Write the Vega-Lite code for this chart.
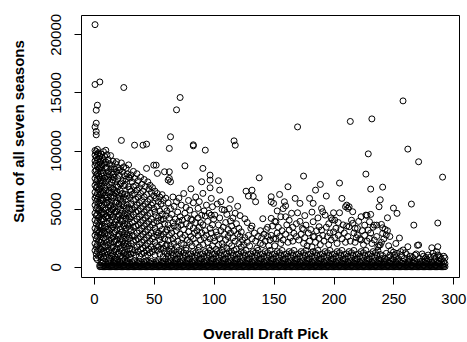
{"$schema":"https://vega.github.io/schema/vega-lite/v6.json","width":378,"height":262,"autosize":{"type":"none"},"padding":{"left":81,"top":15,"right":8,"bottom":65},"background":"white","config":{"view":{"stroke":"black","strokeWidth":1},"font":"Liberation Sans"},
"data":{"values":[
{"pick":1,"sum":20830},{"pick":1,"sum":15680},{"pick":1,"sum":12030},{"pick":1,"sum":10000},{"pick":1,"sum":9600},{"pick":1,"sum":9100},{"pick":1,"sum":8700},{"pick":1,"sum":8200},{"pick":1,"sum":7600},{"pick":1,"sum":7000},{"pick":1,"sum":6400},{"pick":1,"sum":5900},{"pick":1,"sum":5300},{"pick":1,"sum":4600},{"pick":1,"sum":4000},{"pick":1,"sum":3300},{"pick":1,"sum":2700},{"pick":1,"sum":2000},{"pick":1,"sum":1400},
{"pick":2,"sum":13470},{"pick":2,"sum":12350},{"pick":2,"sum":11640},{"pick":2,"sum":11350},{"pick":2,"sum":9900},{"pick":2,"sum":9400},{"pick":2,"sum":8900},{"pick":2,"sum":8300},{"pick":2,"sum":7900},{"pick":2,"sum":7300},{"pick":2,"sum":6800},{"pick":2,"sum":6100},{"pick":2,"sum":5600},{"pick":2,"sum":5000},{"pick":2,"sum":4400},{"pick":2,"sum":3700},{"pick":2,"sum":3000},{"pick":2,"sum":2400},{"pick":2,"sum":1700},{"pick":2,"sum":1100},{"pick":2,"sum":750},
{"pick":3,"sum":13900},{"pick":3,"sum":10100},{"pick":3,"sum":9700},{"pick":3,"sum":9200},{"pick":3,"sum":8600},{"pick":3,"sum":8000},{"pick":3,"sum":7500},{"pick":3,"sum":6900},{"pick":3,"sum":6300},{"pick":3,"sum":5800},{"pick":3,"sum":5100},{"pick":3,"sum":4500},{"pick":3,"sum":3900},{"pick":3,"sum":3200},{"pick":3,"sum":2600},{"pick":3,"sum":1900},{"pick":3,"sum":1300},{"pick":3,"sum":600},
{"pick":4,"sum":9800},{"pick":4,"sum":9300},{"pick":4,"sum":8800},{"pick":4,"sum":8400},{"pick":4,"sum":7800},{"pick":4,"sum":7100},{"pick":4,"sum":6600},{"pick":4,"sum":6000},{"pick":4,"sum":5400},{"pick":4,"sum":4800},{"pick":4,"sum":4200},{"pick":4,"sum":3500},{"pick":4,"sum":2900},{"pick":4,"sum":2200},{"pick":4,"sum":1500},{"pick":4,"sum":900},
{"pick":5,"sum":15900},{"pick":5,"sum":9500},{"pick":5,"sum":9000},{"pick":5,"sum":8500},{"pick":5,"sum":7700},{"pick":5,"sum":7200},{"pick":5,"sum":6700},{"pick":5,"sum":6200},{"pick":5,"sum":5500},{"pick":5,"sum":4900},{"pick":5,"sum":4300},{"pick":5,"sum":3600},{"pick":5,"sum":3000},{"pick":5,"sum":2300},{"pick":5,"sum":1600},{"pick":5,"sum":1000},
{"pick":6,"sum":9700},{"pick":6,"sum":9100},{"pick":6,"sum":8600},{"pick":6,"sum":8000},{"pick":6,"sum":7400},{"pick":6,"sum":6900},{"pick":6,"sum":6300},{"pick":6,"sum":5700},{"pick":6,"sum":5200},{"pick":6,"sum":4600},{"pick":6,"sum":4000},{"pick":6,"sum":3400},{"pick":6,"sum":2800},{"pick":6,"sum":2100},{"pick":6,"sum":1500},{"pick":6,"sum":800},
{"pick":7,"sum":9400},{"pick":7,"sum":8800},{"pick":7,"sum":8300},{"pick":7,"sum":7800},{"pick":7,"sum":7200},{"pick":7,"sum":6500},{"pick":7,"sum":5900},{"pick":7,"sum":5300},{"pick":7,"sum":4700},{"pick":7,"sum":4100},{"pick":7,"sum":3500},{"pick":7,"sum":2900},{"pick":7,"sum":2300},{"pick":7,"sum":1700},{"pick":7,"sum":1100},
{"pick":8,"sum":9900},{"pick":8,"sum":9150},{"pick":8,"sum":8050},{"pick":8,"sum":7420},{"pick":8,"sum":6380},{"pick":8,"sum":5710},{"pick":8,"sum":4650},{"pick":8,"sum":4120},{"pick":8,"sum":3050},{"pick":8,"sum":2480},{"pick":8,"sum":1390},{"pick":8,"sum":820},
{"pick":9,"sum":9480},{"pick":9,"sum":8820},{"pick":9,"sum":7610},{"pick":9,"sum":6760},{"pick":9,"sum":6150},{"pick":9,"sum":5030},{"pick":9,"sum":4510},{"pick":9,"sum":3480},{"pick":9,"sum":2830},{"pick":9,"sum":1810},{"pick":9,"sum":1150},
{"pick":10,"sum":10020},{"pick":10,"sum":9010},{"pick":10,"sum":8460},{"pick":10,"sum":7280},{"pick":10,"sum":6590},{"pick":10,"sum":5890},{"pick":10,"sum":4870},{"pick":10,"sum":4270},{"pick":10,"sum":3390},{"pick":10,"sum":2360},{"pick":10,"sum":1720},{"pick":10,"sum":960},
{"pick":11,"sum":9640},{"pick":11,"sum":8540},{"pick":11,"sum":7790},{"pick":11,"sum":6940},{"pick":11,"sum":6020},{"pick":11,"sum":5480},{"pick":11,"sum":4380},{"pick":11,"sum":3710},{"pick":11,"sum":2940},{"pick":11,"sum":2090},{"pick":11,"sum":1280},
{"pick":12,"sum":9220},{"pick":12,"sum":8180},{"pick":12,"sum":7530},{"pick":12,"sum":6350},{"pick":12,"sum":5720},{"pick":12,"sum":5110},{"pick":12,"sum":4190},{"pick":12,"sum":3260},{"pick":12,"sum":2690},{"pick":12,"sum":1850},{"pick":12,"sum":1060},
{"pick":13,"sum":8870},{"pick":13,"sum":7910},{"pick":13,"sum":7060},{"pick":13,"sum":6560},{"pick":13,"sum":5360},{"pick":13,"sum":4720},{"pick":13,"sum":3920},{"pick":13,"sum":3130},{"pick":13,"sum":2270},{"pick":13,"sum":1430},{"pick":13,"sum":740},
{"pick":14,"sum":9560},{"pick":14,"sum":8420},{"pick":14,"sum":7730},{"pick":14,"sum":6820},{"pick":14,"sum":6010},{"pick":14,"sum":5240},{"pick":14,"sum":4520},{"pick":14,"sum":3580},{"pick":14,"sum":2750},{"pick":14,"sum":2010},{"pick":14,"sum":1190},
{"pick":15,"sum":8730},{"pick":15,"sum":8120},{"pick":15,"sum":7230},{"pick":15,"sum":6410},{"pick":15,"sum":5630},{"pick":15,"sum":4880},{"pick":15,"sum":3990},{"pick":15,"sum":3310},{"pick":15,"sum":2420},{"pick":15,"sum":1640},{"pick":15,"sum":910},
{"pick":16,"sum":9080},{"pick":16,"sum":7960},{"pick":16,"sum":7470},{"pick":16,"sum":6720},{"pick":16,"sum":5920},{"pick":16,"sum":4960},{"pick":16,"sum":4280},{"pick":16,"sum":3420},{"pick":16,"sum":2560},{"pick":16,"sum":1690},{"pick":16,"sum":1020},
{"pick":17,"sum":8410},{"pick":17,"sum":7690},{"pick":17,"sum":6630},{"pick":17,"sum":6080},{"pick":17,"sum":5150},{"pick":17,"sum":4590},{"pick":17,"sum":3620},{"pick":17,"sum":2880},{"pick":17,"sum":2140},{"pick":17,"sum":1330},{"pick":17,"sum":640},
{"pick":18,"sum":8860},{"pick":18,"sum":7340},{"pick":18,"sum":6290},{"pick":18,"sum":5470},{"pick":18,"sum":4690},{"pick":18,"sum":3840},{"pick":18,"sum":3010},{"pick":18,"sum":2250},{"pick":18,"sum":1480},{"pick":18,"sum":830},
{"pick":19,"sum":9040},{"pick":19,"sum":8170},{"pick":19,"sum":6980},{"pick":19,"sum":6460},{"pick":19,"sum":5560},{"pick":19,"sum":4770},{"pick":19,"sum":4040},{"pick":19,"sum":3180},{"pick":19,"sum":2330},{"pick":19,"sum":1560},
{"pick":20,"sum":8520},{"pick":20,"sum":7580},{"pick":20,"sum":6850},{"pick":20,"sum":5930},{"pick":20,"sum":5180},{"pick":20,"sum":4340},{"pick":20,"sum":3560},{"pick":20,"sum":2640},{"pick":20,"sum":1920},{"pick":20,"sum":1090},{"pick":20,"sum":580},
{"pick":21,"sum":8280},{"pick":21,"sum":7860},{"pick":21,"sum":6150},{"pick":21,"sum":5390},{"pick":21,"sum":4470},{"pick":21,"sum":3730},{"pick":21,"sum":2790},{"pick":21,"sum":2010},{"pick":21,"sum":1240},
{"pick":22,"sum":8360},{"pick":22,"sum":7120},{"pick":22,"sum":6540},{"pick":22,"sum":5780},{"pick":22,"sum":4930},{"pick":22,"sum":4080},{"pick":22,"sum":3240},{"pick":22,"sum":2410},{"pick":22,"sum":1610},{"pick":22,"sum":920},
{"pick":23,"sum":10870},{"pick":23,"sum":8930},{"pick":23,"sum":7210},{"pick":23,"sum":6270},{"pick":23,"sum":5420},{"pick":23,"sum":4610},{"pick":23,"sum":3870},{"pick":23,"sum":2960},{"pick":23,"sum":2110},{"pick":23,"sum":1310},
{"pick":24,"sum":8140},{"pick":24,"sum":7380},{"pick":24,"sum":6310},{"pick":24,"sum":5610},{"pick":24,"sum":4780},{"pick":24,"sum":3940},{"pick":24,"sum":3020},{"pick":24,"sum":2230},{"pick":24,"sum":1420},{"pick":24,"sum":710},
{"pick":25,"sum":15420},{"pick":25,"sum":8590},{"pick":25,"sum":6960},{"pick":25,"sum":5980},{"pick":25,"sum":5250},{"pick":25,"sum":4390},{"pick":25,"sum":3520},{"pick":25,"sum":2680},{"pick":25,"sum":1890},{"pick":25,"sum":1130},
{"pick":26,"sum":7830},{"pick":26,"sum":7070},{"pick":26,"sum":6240},{"pick":26,"sum":4550},{"pick":26,"sum":3690},{"pick":26,"sum":2840},{"pick":26,"sum":2020},{"pick":26,"sum":1220},{"pick":26,"sum":610},
{"pick":27,"sum":8470},{"pick":27,"sum":7540},{"pick":27,"sum":5830},{"pick":27,"sum":5020},{"pick":27,"sum":4170},{"pick":27,"sum":3330},{"pick":27,"sum":2520},{"pick":27,"sum":1740},{"pick":27,"sum":940},
{"pick":28,"sum":7980},{"pick":28,"sum":6110},{"pick":28,"sum":5290},{"pick":28,"sum":4420},{"pick":28,"sum":3610},{"pick":28,"sum":2730},{"pick":28,"sum":1950},{"pick":28,"sum":1080},
{"pick":29,"sum":8760},{"pick":29,"sum":7710},{"pick":29,"sum":6880},{"pick":29,"sum":5090},{"pick":29,"sum":4310},{"pick":29,"sum":3470},{"pick":29,"sum":2610},{"pick":29,"sum":1780},{"pick":29,"sum":1010},
{"pick":30,"sum":7620},{"pick":30,"sum":6650},{"pick":30,"sum":5940},{"pick":30,"sum":4990},{"pick":30,"sum":4130},{"pick":30,"sum":3280},{"pick":30,"sum":2440},{"pick":30,"sum":1580},{"pick":30,"sum":790},
{"pick":31,"sum":7900},{"pick":31,"sum":6500},{"pick":31,"sum":5400},{"pick":31,"sum":4300},{"pick":31,"sum":3100},{"pick":31,"sum":2000},{"pick":31,"sum":1100},
{"pick":32,"sum":7300},{"pick":32,"sum":6200},{"pick":32,"sum":4900},{"pick":32,"sum":3800},{"pick":32,"sum":2700},{"pick":32,"sum":1500},
{"pick":33,"sum":8200},{"pick":33,"sum":6900},{"pick":33,"sum":5700},{"pick":33,"sum":4500},{"pick":33,"sum":3400},{"pick":33,"sum":2200},{"pick":33,"sum":1200},
{"pick":34,"sum":10460},{"pick":34,"sum":7600},{"pick":34,"sum":6300},{"pick":34,"sum":5100},{"pick":34,"sum":3900},{"pick":34,"sum":2600},{"pick":34,"sum":1400},
{"pick":35,"sum":7000},{"pick":35,"sum":5800},{"pick":35,"sum":4700},{"pick":35,"sum":3500},{"pick":35,"sum":2300},{"pick":35,"sum":1000},
{"pick":36,"sum":8000},{"pick":36,"sum":6600},{"pick":36,"sum":5300},{"pick":36,"sum":4100},{"pick":36,"sum":2900},{"pick":36,"sum":1700},
{"pick":37,"sum":7400},{"pick":37,"sum":6000},{"pick":37,"sum":4800},{"pick":37,"sum":3600},{"pick":37,"sum":2400},{"pick":37,"sum":1300},
{"pick":38,"sum":6800},{"pick":38,"sum":5500},{"pick":38,"sum":4300},{"pick":38,"sum":3100},{"pick":38,"sum":1900},{"pick":38,"sum":900},
{"pick":39,"sum":7700},{"pick":39,"sum":6300},{"pick":39,"sum":5000},{"pick":39,"sum":3800},{"pick":39,"sum":2600},{"pick":39,"sum":1500},
{"pick":40,"sum":7100},{"pick":40,"sum":5700},{"pick":40,"sum":4500},{"pick":40,"sum":3300},{"pick":40,"sum":2100},{"pick":40,"sum":1100},
{"pick":41,"sum":10460},{"pick":41,"sum":6500},{"pick":41,"sum":5200},{"pick":41,"sum":4000},{"pick":41,"sum":2800},{"pick":41,"sum":1600},
{"pick":42,"sum":7500},{"pick":42,"sum":6000},{"pick":42,"sum":4700},{"pick":42,"sum":3500},{"pick":42,"sum":2300},{"pick":42,"sum":1200},
{"pick":43,"sum":6900},{"pick":43,"sum":5400},{"pick":43,"sum":4200},{"pick":43,"sum":3000},{"pick":43,"sum":1800},{"pick":43,"sum":900},
{"pick":44,"sum":10550},{"pick":44,"sum":8460},{"pick":44,"sum":6200},{"pick":44,"sum":4900},{"pick":44,"sum":3700},{"pick":44,"sum":2500},{"pick":44,"sum":1400},
{"pick":45,"sum":7300},{"pick":45,"sum":5600},{"pick":45,"sum":4400},{"pick":45,"sum":3200},{"pick":45,"sum":2000},{"pick":45,"sum":1000},
{"pick":46,"sum":6700},{"pick":46,"sum":5100},{"pick":46,"sum":3900},{"pick":46,"sum":2700},{"pick":46,"sum":1500},
{"pick":47,"sum":7000},{"pick":47,"sum":5800},{"pick":47,"sum":4600},{"pick":47,"sum":3400},{"pick":47,"sum":2200},{"pick":47,"sum":1200},
{"pick":48,"sum":6400},{"pick":48,"sum":5300},{"pick":48,"sum":4100},{"pick":48,"sum":2900},{"pick":48,"sum":1700},
{"pick":49,"sum":6800},{"pick":49,"sum":5500},{"pick":49,"sum":3600},{"pick":49,"sum":2400},{"pick":49,"sum":1300},
{"pick":50,"sum":8740},{"pick":50,"sum":6100},{"pick":50,"sum":5000},{"pick":50,"sum":3800},{"pick":50,"sum":2600},{"pick":50,"sum":1500},
{"pick":51,"sum":6500},{"pick":51,"sum":4700},{"pick":51,"sum":3300},{"pick":51,"sum":2100},{"pick":51,"sum":1000},
{"pick":52,"sum":8740},{"pick":52,"sum":5900},{"pick":52,"sum":4400},{"pick":52,"sum":3000},{"pick":52,"sum":1800},
{"pick":53,"sum":8030},{"pick":53,"sum":6300},{"pick":53,"sum":5200},{"pick":53,"sum":3900},{"pick":53,"sum":2700},{"pick":53,"sum":1400},
{"pick":54,"sum":5600},{"pick":54,"sum":4200},{"pick":54,"sum":2900},{"pick":54,"sum":1700},
{"pick":55,"sum":6000},{"pick":55,"sum":4800},{"pick":55,"sum":3500},{"pick":55,"sum":2300},{"pick":55,"sum":1100},
{"pick":56,"sum":5400},{"pick":56,"sum":4000},{"pick":56,"sum":2600},{"pick":56,"sum":1500},
{"pick":57,"sum":6200},{"pick":57,"sum":4500},{"pick":57,"sum":3200},{"pick":57,"sum":2000},
{"pick":58,"sum":5700},{"pick":58,"sum":4100},{"pick":58,"sum":2800},{"pick":58,"sum":1600},{"pick":58,"sum":900},
{"pick":59,"sum":8170},{"pick":59,"sum":5000},{"pick":59,"sum":3700},{"pick":59,"sum":2400},{"pick":59,"sum":1300},
{"pick":60,"sum":5900},{"pick":60,"sum":4400},{"pick":60,"sum":3000},{"pick":60,"sum":1800},
{"pick":61,"sum":4800},{"pick":61,"sum":3200},{"pick":61,"sum":1900},
{"pick":62,"sum":7450},{"pick":62,"sum":5500},{"pick":62,"sum":3600},{"pick":62,"sum":2300},
{"pick":63,"sum":10180},{"pick":63,"sum":8170},{"pick":63,"sum":7600},{"pick":63,"sum":4200},{"pick":63,"sum":2700},
{"pick":64,"sum":11180},{"pick":64,"sum":7310},{"pick":64,"sum":5000},{"pick":64,"sum":3300},{"pick":64,"sum":1800},
{"pick":65,"sum":4500},{"pick":65,"sum":2900},{"pick":65,"sum":1500},
{"pick":66,"sum":6000},{"pick":66,"sum":3800},{"pick":66,"sum":2400},
{"pick":67,"sum":5200},{"pick":67,"sum":3500},{"pick":67,"sum":2000},
{"pick":68,"sum":4100},{"pick":68,"sum":2600},
{"pick":69,"sum":13500},{"pick":69,"sum":5600},{"pick":69,"sum":3100},{"pick":69,"sum":1700},
{"pick":70,"sum":4700},{"pick":70,"sum":3400},{"pick":70,"sum":2200},
{"pick":71,"sum":5900},{"pick":71,"sum":3900},{"pick":71,"sum":1400},
{"pick":72,"sum":14560},{"pick":72,"sum":4300},{"pick":72,"sum":2800},
{"pick":73,"sum":5300},{"pick":73,"sum":3600},{"pick":73,"sum":2000},
{"pick":74,"sum":4000},{"pick":74,"sum":2500},
{"pick":75,"sum":6300},{"pick":75,"sum":3200},{"pick":75,"sum":1900},
{"pick":76,"sum":8680},{"pick":76,"sum":4600},{"pick":76,"sum":2700},
{"pick":77,"sum":5100},{"pick":77,"sum":3700},{"pick":77,"sum":1600},
{"pick":78,"sum":4200},{"pick":78,"sum":2300},
{"pick":79,"sum":5700},{"pick":79,"sum":3000},
{"pick":80,"sum":4870},{"pick":80,"sum":3500},{"pick":80,"sum":2100},
{"pick":81,"sum":6700},{"pick":81,"sum":4100},{"pick":81,"sum":2600},
{"pick":82,"sum":4010},{"pick":82,"sum":1800},
{"pick":83,"sum":10490},{"pick":83,"sum":10400},{"pick":83,"sum":5500},{"pick":83,"sum":3300},{"pick":83,"sum":2400},
{"pick":84,"sum":4500},{"pick":84,"sum":2900},
{"pick":85,"sum":6000},{"pick":85,"sum":3800},{"pick":85,"sum":2000},
{"pick":86,"sum":3100},
{"pick":87,"sum":5020},{"pick":87,"sum":4200},{"pick":87,"sum":2700},
{"pick":88,"sum":5600},{"pick":88,"sum":3400},{"pick":88,"sum":1700},
{"pick":89,"sum":3800},{"pick":89,"sum":2300},
{"pick":90,"sum":7310},{"pick":90,"sum":4440},{"pick":90,"sum":2900},
{"pick":91,"sum":8460},{"pick":91,"sum":6310},{"pick":91,"sum":3600},{"pick":91,"sum":1900},
{"pick":92,"sum":4800},{"pick":92,"sum":2500},
{"pick":93,"sum":10030},{"pick":93,"sum":4360},{"pick":93,"sum":3100},
{"pick":94,"sum":5300},{"pick":94,"sum":2700},
{"pick":95,"sum":3900},{"pick":95,"sum":2100},
{"pick":96,"sum":4600},{"pick":96,"sum":1600},
{"pick":97,"sum":7880},{"pick":97,"sum":7450},{"pick":97,"sum":6790},{"pick":97,"sum":3300},{"pick":97,"sum":2400},
{"pick":98,"sum":5880},{"pick":98,"sum":4440},{"pick":98,"sum":2900},
{"pick":99,"sum":5160},{"pick":99,"sum":3600},{"pick":99,"sum":1800},
{"pick":100,"sum":4100},{"pick":100,"sum":2500},
{"pick":101,"sum":4440},{"pick":101,"sum":2200},
{"pick":102,"sum":3000},{"pick":102,"sum":1500},
{"pick":103,"sum":5400},{"pick":103,"sum":2700},
{"pick":104,"sum":7400},{"pick":104,"sum":3600},{"pick":104,"sum":1900},
{"pick":105,"sum":6590},{"pick":105,"sum":4200},{"pick":105,"sum":2400},
{"pick":106,"sum":5590},{"pick":106,"sum":3100},
{"pick":107,"sum":4930},{"pick":107,"sum":2000},
{"pick":108,"sum":3400},{"pick":108,"sum":1700},
{"pick":109,"sum":4870},{"pick":109,"sum":2800},
{"pick":110,"sum":3800},{"pick":110,"sum":2300},
{"pick":111,"sum":4500},{"pick":111,"sum":1600},
{"pick":112,"sum":3200},{"pick":112,"sum":2600},
{"pick":113,"sum":5000},{"pick":113,"sum":2000},
{"pick":114,"sum":5790},{"pick":114,"sum":3930},{"pick":114,"sum":2900},
{"pick":115,"sum":3500},{"pick":115,"sum":1800},
{"pick":116,"sum":4200},{"pick":116,"sum":2500},
{"pick":117,"sum":10830},{"pick":117,"sum":3100},
{"pick":118,"sum":10460},{"pick":118,"sum":4600},{"pick":118,"sum":2200},
{"pick":119,"sum":3700},{"pick":119,"sum":1500},
{"pick":120,"sum":5200},{"pick":120,"sum":2800},
{"pick":121,"sum":3300},{"pick":121,"sum":2000},
{"pick":122,"sum":4400},{"pick":122,"sum":2600},
{"pick":123,"sum":3000},{"pick":123,"sum":1700},
{"pick":124,"sum":2300},
{"pick":125,"sum":1900},
{"pick":126,"sum":4120},{"pick":126,"sum":2500},
{"pick":127,"sum":6500},
{"pick":128,"sum":3800},{"pick":128,"sum":2100},
{"pick":129,"sum":6080},{"pick":129,"sum":2700},
{"pick":130,"sum":1800},
{"pick":131,"sum":3300},
{"pick":132,"sum":6590},{"pick":132,"sum":3500},{"pick":132,"sum":2400},
{"pick":133,"sum":6050},
{"pick":134,"sum":2900},
{"pick":135,"sum":5590},{"pick":135,"sum":2200},
{"pick":136,"sum":1600},
{"pick":137,"sum":2600},
{"pick":138,"sum":7650},
{"pick":139,"sum":3100},{"pick":139,"sum":2000},
{"pick":140,"sum":2500},
{"pick":141,"sum":4130},{"pick":141,"sum":1900},
{"pick":142,"sum":2800},
{"pick":143,"sum":2200},
{"pick":144,"sum":3200},
{"pick":145,"sum":3390},{"pick":145,"sum":2600},
{"pick":146,"sum":1800},
{"pick":147,"sum":2300},
{"pick":148,"sum":6020},{"pick":148,"sum":5590},{"pick":148,"sum":4160},{"pick":148,"sum":2700},
{"pick":149,"sum":3500},
{"pick":150,"sum":5450},{"pick":150,"sum":2400},
{"pick":151,"sum":3900},{"pick":151,"sum":1800},
{"pick":152,"sum":3870},{"pick":152,"sum":2400},
{"pick":153,"sum":4800},{"pick":153,"sum":2900},
{"pick":154,"sum":3390},
{"pick":155,"sum":6220},{"pick":155,"sum":2600},
{"pick":156,"sum":4300},{"pick":156,"sum":2000},
{"pick":157,"sum":3100},
{"pick":158,"sum":5000},{"pick":158,"sum":2300},
{"pick":159,"sum":5590},
{"pick":160,"sum":5240},{"pick":160,"sum":4300},{"pick":160,"sum":2800},
{"pick":161,"sum":3600},
{"pick":162,"sum":6880},{"pick":162,"sum":2100},
{"pick":163,"sum":3150},{"pick":163,"sum":4000},
{"pick":164,"sum":2500},
{"pick":165,"sum":4600},
{"pick":166,"sum":3400},{"pick":166,"sum":2200},
{"pick":167,"sum":2870},
{"pick":168,"sum":5880},
{"pick":169,"sum":3700},{"pick":169,"sum":2600},
{"pick":170,"sum":12030},{"pick":170,"sum":4640},
{"pick":171,"sum":2300},
{"pick":172,"sum":5450},{"pick":172,"sum":3900},
{"pick":173,"sum":2800},
{"pick":174,"sum":3300},
{"pick":175,"sum":7800},{"pick":175,"sum":3210},{"pick":175,"sum":2000},
{"pick":176,"sum":4400},{"pick":176,"sum":2500},
{"pick":177,"sum":3580},
{"pick":178,"sum":1800},
{"pick":179,"sum":2900},
{"pick":180,"sum":5880},{"pick":180,"sum":2200},
{"pick":181,"sum":3200},
{"pick":182,"sum":4700},{"pick":182,"sum":1700},
{"pick":183,"sum":5450},{"pick":183,"sum":3870},{"pick":183,"sum":2600},
{"pick":184,"sum":2580},
{"pick":185,"sum":6590},{"pick":185,"sum":2100},
{"pick":186,"sum":3100},
{"pick":187,"sum":4200},
{"pick":188,"sum":3440},{"pick":188,"sum":2440},
{"pick":189,"sum":7080},{"pick":189,"sum":1900},
{"pick":190,"sum":5020},{"pick":190,"sum":3150},
{"pick":191,"sum":4730},{"pick":191,"sum":2700},
{"pick":192,"sum":2200},
{"pick":193,"sum":4440},
{"pick":194,"sum":6080},{"pick":194,"sum":3400},
{"pick":195,"sum":2600},
{"pick":196,"sum":3700},{"pick":196,"sum":1900},
{"pick":197,"sum":2900},
{"pick":198,"sum":4200},{"pick":198,"sum":2300},
{"pick":199,"sum":4040},
{"pick":200,"sum":4640},{"pick":200,"sum":3000},
{"pick":201,"sum":4010},{"pick":201,"sum":2500},
{"pick":202,"sum":3300},
{"pick":203,"sum":2000},
{"pick":204,"sum":3800},{"pick":204,"sum":2700},
{"pick":205,"sum":7200},{"pick":205,"sum":4640},
{"pick":206,"sum":3200},
{"pick":207,"sum":5880},{"pick":207,"sum":2400},
{"pick":208,"sum":3600},
{"pick":209,"sum":2900},
{"pick":210,"sum":5160},{"pick":210,"sum":2100},
{"pick":211,"sum":5300},{"pick":211,"sum":3500},
{"pick":212,"sum":5020},{"pick":212,"sum":2600},
{"pick":213,"sum":5160},{"pick":213,"sum":3440},
{"pick":214,"sum":12500},{"pick":214,"sum":2200},
{"pick":215,"sum":4000},
{"pick":216,"sum":4730},{"pick":216,"sum":3730},
{"pick":217,"sum":2900},
{"pick":218,"sum":3300},{"pick":218,"sum":2100},
{"pick":219,"sum":2500},
{"pick":220,"sum":3300},{"pick":220,"sum":2720},
{"pick":221,"sum":3900},
{"pick":222,"sum":2400},
{"pick":223,"sum":4300},{"pick":223,"sum":2300},
{"pick":224,"sum":3100},
{"pick":225,"sum":1900},
{"pick":226,"sum":3580},{"pick":226,"sum":2700},
{"pick":227,"sum":7970},{"pick":227,"sum":4440},
{"pick":228,"sum":4420},{"pick":228,"sum":2200},
{"pick":229,"sum":9710},{"pick":229,"sum":3150},
{"pick":230,"sum":3870},{"pick":230,"sum":2440},
{"pick":231,"sum":6680},{"pick":231,"sum":4500},{"pick":231,"sum":2900},
{"pick":232,"sum":12720},{"pick":232,"sum":2000},
{"pick":233,"sum":3400},
{"pick":234,"sum":3580},{"pick":234,"sum":2300},
{"pick":236,"sum":3580},{"pick":236,"sum":2600},
{"pick":237,"sum":1720},
{"pick":238,"sum":5160},{"pick":238,"sum":1840},
{"pick":239,"sum":5760},{"pick":239,"sum":1870},
{"pick":240,"sum":3640},{"pick":240,"sum":2100},
{"pick":241,"sum":6850},{"pick":241,"sum":3350},{"pick":241,"sum":2870},
{"pick":242,"sum":2400},
{"pick":243,"sum":3210},
{"pick":244,"sum":2720},
{"pick":245,"sum":4210},{"pick":245,"sum":3100},
{"pick":246,"sum":1800},
{"pick":247,"sum":2600},
{"pick":248,"sum":1400},
{"pick":250,"sum":5045},
{"pick":251,"sum":1010},
{"pick":252,"sum":2000},
{"pick":253,"sum":4590},{"pick":253,"sum":1150},
{"pick":255,"sum":2470},
{"pick":256,"sum":1300},
{"pick":258,"sum":14270},{"pick":258,"sum":1440},
{"pick":260,"sum":1200},
{"pick":262,"sum":10120},{"pick":262,"sum":1720},
{"pick":264,"sum":900},
{"pick":265,"sum":5390},
{"pick":267,"sum":3580},
{"pick":268,"sum":1000},
{"pick":270,"sum":1840},
{"pick":271,"sum":9030},{"pick":271,"sum":1870},
{"pick":274,"sum":1100},
{"pick":277,"sum":800},
{"pick":279,"sum":1000},
{"pick":282,"sum":1630},
{"pick":284,"sum":900},
{"pick":286,"sum":1290},
{"pick":287,"sum":3760},{"pick":287,"sum":1720},{"pick":287,"sum":1010},
{"pick":289,"sum":800},
{"pick":291,"sum":7710},
{"pick":292,"sum":900},
{"pick":5,"sum":0},{"pick":5,"sum":140},{"pick":6,"sum":0},{"pick":6,"sum":380},{"pick":7,"sum":0},{"pick":7,"sum":300},{"pick":8,"sum":0},{"pick":8,"sum":460},{"pick":9,"sum":0},{"pick":9,"sum":220},
{"pick":10,"sum":0},{"pick":10,"sum":350},{"pick":11,"sum":0},{"pick":11,"sum":180},{"pick":12,"sum":0},{"pick":12,"sum":420},{"pick":13,"sum":0},{"pick":13,"sum":260},{"pick":14,"sum":0},{"pick":14,"sum":500},{"pick":15,"sum":0},{"pick":15,"sum":140},{"pick":16,"sum":0},{"pick":16,"sum":380},{"pick":17,"sum":0},{"pick":17,"sum":300},{"pick":18,"sum":0},{"pick":18,"sum":460},{"pick":19,"sum":0},{"pick":19,"sum":220},
{"pick":20,"sum":0},{"pick":20,"sum":350},{"pick":21,"sum":0},{"pick":21,"sum":180},{"pick":22,"sum":0},{"pick":22,"sum":420},{"pick":23,"sum":0},{"pick":23,"sum":260},{"pick":24,"sum":0},{"pick":24,"sum":500},{"pick":25,"sum":0},{"pick":25,"sum":140},{"pick":26,"sum":0},{"pick":26,"sum":380},{"pick":27,"sum":0},{"pick":27,"sum":300},{"pick":28,"sum":0},{"pick":28,"sum":460},{"pick":29,"sum":0},{"pick":29,"sum":220},
{"pick":30,"sum":0},{"pick":30,"sum":350},{"pick":31,"sum":0},{"pick":31,"sum":180},{"pick":32,"sum":0},{"pick":32,"sum":420},{"pick":33,"sum":0},{"pick":33,"sum":260},{"pick":34,"sum":0},{"pick":34,"sum":500},{"pick":35,"sum":0},{"pick":35,"sum":140},{"pick":36,"sum":0},{"pick":36,"sum":380},{"pick":37,"sum":0},{"pick":37,"sum":300},{"pick":38,"sum":0},{"pick":38,"sum":460},{"pick":39,"sum":0},{"pick":39,"sum":220},
{"pick":40,"sum":0},{"pick":40,"sum":350},{"pick":41,"sum":0},{"pick":41,"sum":180},{"pick":42,"sum":0},{"pick":42,"sum":420},{"pick":43,"sum":0},{"pick":43,"sum":260},{"pick":44,"sum":0},{"pick":44,"sum":500},{"pick":45,"sum":0},{"pick":45,"sum":140},{"pick":46,"sum":0},{"pick":46,"sum":380},{"pick":47,"sum":0},{"pick":47,"sum":300},{"pick":48,"sum":0},{"pick":48,"sum":460},{"pick":49,"sum":0},{"pick":49,"sum":220},
{"pick":50,"sum":0},{"pick":50,"sum":350},{"pick":51,"sum":0},{"pick":51,"sum":180},{"pick":52,"sum":0},{"pick":52,"sum":420},{"pick":53,"sum":0},{"pick":53,"sum":260},{"pick":54,"sum":0},{"pick":54,"sum":500},{"pick":55,"sum":0},{"pick":55,"sum":140},{"pick":56,"sum":0},{"pick":56,"sum":380},{"pick":57,"sum":0},{"pick":57,"sum":300},{"pick":58,"sum":0},{"pick":58,"sum":460},{"pick":59,"sum":0},{"pick":59,"sum":220},
{"pick":60,"sum":0},{"pick":60,"sum":350},{"pick":61,"sum":0},{"pick":61,"sum":180},{"pick":62,"sum":0},{"pick":62,"sum":420},{"pick":63,"sum":0},{"pick":63,"sum":260},{"pick":64,"sum":0},{"pick":64,"sum":500},{"pick":65,"sum":0},{"pick":65,"sum":140},{"pick":66,"sum":0},{"pick":66,"sum":380},{"pick":67,"sum":0},{"pick":67,"sum":300},{"pick":68,"sum":0},{"pick":68,"sum":460},{"pick":69,"sum":0},{"pick":69,"sum":220},
{"pick":70,"sum":0},{"pick":70,"sum":350},{"pick":71,"sum":0},{"pick":71,"sum":180},{"pick":72,"sum":0},{"pick":72,"sum":420},{"pick":73,"sum":0},{"pick":73,"sum":260},{"pick":74,"sum":0},{"pick":74,"sum":500},{"pick":75,"sum":0},{"pick":75,"sum":140},{"pick":76,"sum":0},{"pick":76,"sum":380},{"pick":77,"sum":0},{"pick":77,"sum":300},{"pick":78,"sum":0},{"pick":78,"sum":460},{"pick":79,"sum":0},{"pick":79,"sum":220},
{"pick":80,"sum":0},{"pick":80,"sum":350},{"pick":81,"sum":0},{"pick":81,"sum":180},{"pick":82,"sum":0},{"pick":82,"sum":420},{"pick":83,"sum":0},{"pick":83,"sum":260},{"pick":84,"sum":0},{"pick":84,"sum":500},{"pick":85,"sum":0},{"pick":85,"sum":140},{"pick":86,"sum":0},{"pick":86,"sum":380},{"pick":87,"sum":0},{"pick":87,"sum":300},{"pick":88,"sum":0},{"pick":88,"sum":460},{"pick":89,"sum":0},{"pick":89,"sum":220},
{"pick":90,"sum":0},{"pick":90,"sum":350},{"pick":91,"sum":0},{"pick":91,"sum":180},{"pick":92,"sum":0},{"pick":92,"sum":420},{"pick":93,"sum":0},{"pick":93,"sum":260},{"pick":94,"sum":0},{"pick":94,"sum":500},{"pick":95,"sum":0},{"pick":95,"sum":140},{"pick":96,"sum":0},{"pick":96,"sum":380},{"pick":97,"sum":0},{"pick":97,"sum":300},{"pick":98,"sum":0},{"pick":98,"sum":460},{"pick":99,"sum":0},{"pick":99,"sum":220},
{"pick":100,"sum":0},{"pick":100,"sum":350},{"pick":101,"sum":0},{"pick":101,"sum":180},{"pick":102,"sum":0},{"pick":102,"sum":420},{"pick":103,"sum":0},{"pick":103,"sum":260},{"pick":104,"sum":0},{"pick":104,"sum":500},{"pick":105,"sum":0},{"pick":105,"sum":140},{"pick":106,"sum":0},{"pick":106,"sum":380},{"pick":107,"sum":0},{"pick":107,"sum":300},{"pick":108,"sum":0},{"pick":108,"sum":460},{"pick":109,"sum":0},{"pick":109,"sum":220},
{"pick":110,"sum":0},{"pick":110,"sum":350},{"pick":111,"sum":0},{"pick":111,"sum":180},{"pick":112,"sum":0},{"pick":112,"sum":420},{"pick":113,"sum":0},{"pick":113,"sum":260},{"pick":114,"sum":0},{"pick":114,"sum":500},{"pick":115,"sum":0},{"pick":115,"sum":140},{"pick":116,"sum":0},{"pick":116,"sum":380},{"pick":117,"sum":0},{"pick":117,"sum":300},{"pick":118,"sum":0},{"pick":118,"sum":460},{"pick":119,"sum":0},{"pick":119,"sum":220},
{"pick":120,"sum":0},{"pick":120,"sum":350},{"pick":121,"sum":0},{"pick":121,"sum":180},{"pick":122,"sum":0},{"pick":122,"sum":420},{"pick":123,"sum":0},{"pick":123,"sum":260},{"pick":124,"sum":0},{"pick":124,"sum":500},{"pick":125,"sum":0},{"pick":125,"sum":140},{"pick":126,"sum":0},{"pick":126,"sum":380},{"pick":127,"sum":0},{"pick":127,"sum":300},{"pick":128,"sum":0},{"pick":128,"sum":460},{"pick":129,"sum":0},{"pick":129,"sum":220},
{"pick":130,"sum":0},{"pick":130,"sum":350},{"pick":131,"sum":0},{"pick":131,"sum":180},{"pick":132,"sum":0},{"pick":132,"sum":420},{"pick":133,"sum":0},{"pick":133,"sum":260},{"pick":134,"sum":0},{"pick":134,"sum":500},{"pick":135,"sum":0},{"pick":135,"sum":140},{"pick":136,"sum":0},{"pick":136,"sum":380},{"pick":137,"sum":0},{"pick":137,"sum":300},{"pick":138,"sum":0},{"pick":138,"sum":460},{"pick":139,"sum":0},{"pick":139,"sum":220},
{"pick":140,"sum":0},{"pick":140,"sum":350},{"pick":141,"sum":0},{"pick":141,"sum":180},{"pick":142,"sum":0},{"pick":142,"sum":420},{"pick":143,"sum":0},{"pick":143,"sum":260},{"pick":144,"sum":0},{"pick":144,"sum":500},{"pick":145,"sum":0},{"pick":145,"sum":140},{"pick":146,"sum":0},{"pick":146,"sum":380},{"pick":147,"sum":0},{"pick":147,"sum":300},{"pick":148,"sum":0},{"pick":148,"sum":460},{"pick":149,"sum":0},{"pick":149,"sum":220},
{"pick":150,"sum":0},{"pick":150,"sum":350},{"pick":151,"sum":0},{"pick":151,"sum":180},{"pick":152,"sum":0},{"pick":152,"sum":420},{"pick":153,"sum":0},{"pick":153,"sum":260},{"pick":154,"sum":0},{"pick":154,"sum":500},{"pick":155,"sum":0},{"pick":155,"sum":140},{"pick":156,"sum":0},{"pick":156,"sum":380},{"pick":157,"sum":0},{"pick":157,"sum":300},{"pick":158,"sum":0},{"pick":158,"sum":460},{"pick":159,"sum":0},{"pick":159,"sum":220},
{"pick":160,"sum":0},{"pick":160,"sum":350},{"pick":161,"sum":0},{"pick":161,"sum":180},{"pick":162,"sum":0},{"pick":162,"sum":420},{"pick":163,"sum":0},{"pick":163,"sum":260},{"pick":164,"sum":0},{"pick":164,"sum":500},{"pick":165,"sum":0},{"pick":165,"sum":140},{"pick":166,"sum":0},{"pick":166,"sum":380},{"pick":167,"sum":0},{"pick":167,"sum":300},{"pick":168,"sum":0},{"pick":168,"sum":460},{"pick":169,"sum":0},{"pick":169,"sum":220},
{"pick":170,"sum":0},{"pick":170,"sum":350},{"pick":171,"sum":0},{"pick":171,"sum":180},{"pick":172,"sum":0},{"pick":172,"sum":420},{"pick":173,"sum":0},{"pick":173,"sum":260},{"pick":174,"sum":0},{"pick":174,"sum":500},{"pick":175,"sum":0},{"pick":175,"sum":140},{"pick":176,"sum":0},{"pick":176,"sum":380},{"pick":177,"sum":0},{"pick":177,"sum":300},{"pick":178,"sum":0},{"pick":178,"sum":460},{"pick":179,"sum":0},{"pick":179,"sum":220},
{"pick":180,"sum":0},{"pick":180,"sum":350},{"pick":181,"sum":0},{"pick":181,"sum":180},{"pick":182,"sum":0},{"pick":182,"sum":420},{"pick":183,"sum":0},{"pick":183,"sum":260},{"pick":184,"sum":0},{"pick":184,"sum":500},{"pick":185,"sum":0},{"pick":185,"sum":140},{"pick":186,"sum":0},{"pick":186,"sum":380},{"pick":187,"sum":0},{"pick":187,"sum":300},{"pick":188,"sum":0},{"pick":188,"sum":460},{"pick":189,"sum":0},{"pick":189,"sum":220},
{"pick":190,"sum":0},{"pick":190,"sum":350},{"pick":191,"sum":0},{"pick":191,"sum":180},{"pick":192,"sum":0},{"pick":192,"sum":420},{"pick":193,"sum":0},{"pick":193,"sum":260},{"pick":194,"sum":0},{"pick":194,"sum":500},{"pick":195,"sum":0},{"pick":195,"sum":140},{"pick":196,"sum":0},{"pick":196,"sum":380},{"pick":197,"sum":0},{"pick":197,"sum":300},{"pick":198,"sum":0},{"pick":198,"sum":460},{"pick":199,"sum":0},{"pick":199,"sum":220},
{"pick":200,"sum":0},{"pick":200,"sum":350},{"pick":201,"sum":0},{"pick":201,"sum":180},{"pick":202,"sum":0},{"pick":202,"sum":420},{"pick":203,"sum":0},{"pick":203,"sum":260},{"pick":204,"sum":0},{"pick":204,"sum":500},{"pick":205,"sum":0},{"pick":205,"sum":140},{"pick":206,"sum":0},{"pick":206,"sum":380},{"pick":207,"sum":0},{"pick":207,"sum":300},{"pick":208,"sum":0},{"pick":208,"sum":460},{"pick":209,"sum":0},{"pick":209,"sum":220},
{"pick":210,"sum":0},{"pick":210,"sum":350},{"pick":211,"sum":0},{"pick":211,"sum":180},{"pick":212,"sum":0},{"pick":212,"sum":420},{"pick":213,"sum":0},{"pick":213,"sum":260},{"pick":214,"sum":0},{"pick":214,"sum":500},{"pick":215,"sum":0},{"pick":215,"sum":140},{"pick":216,"sum":0},{"pick":216,"sum":380},{"pick":217,"sum":0},{"pick":217,"sum":300},{"pick":218,"sum":0},{"pick":218,"sum":460},{"pick":219,"sum":0},{"pick":219,"sum":220},
{"pick":220,"sum":0},{"pick":220,"sum":350},{"pick":221,"sum":0},{"pick":221,"sum":180},{"pick":222,"sum":0},{"pick":222,"sum":420},{"pick":223,"sum":0},{"pick":223,"sum":260},{"pick":224,"sum":0},{"pick":224,"sum":500},{"pick":225,"sum":0},{"pick":225,"sum":140},{"pick":226,"sum":0},{"pick":226,"sum":380},{"pick":227,"sum":0},{"pick":227,"sum":300},{"pick":228,"sum":0},{"pick":228,"sum":460},{"pick":229,"sum":0},{"pick":229,"sum":220},
{"pick":230,"sum":0},{"pick":230,"sum":350},{"pick":231,"sum":0},{"pick":231,"sum":180},{"pick":232,"sum":0},{"pick":232,"sum":420},{"pick":233,"sum":0},{"pick":233,"sum":260},{"pick":234,"sum":0},{"pick":234,"sum":500},{"pick":235,"sum":0},{"pick":235,"sum":140},{"pick":236,"sum":0},{"pick":236,"sum":380},{"pick":237,"sum":0},{"pick":237,"sum":300},{"pick":238,"sum":0},{"pick":238,"sum":460},{"pick":239,"sum":0},{"pick":239,"sum":220},
{"pick":240,"sum":0},{"pick":240,"sum":350},{"pick":241,"sum":0},{"pick":241,"sum":180},{"pick":242,"sum":0},{"pick":242,"sum":420},{"pick":243,"sum":0},{"pick":243,"sum":260},{"pick":244,"sum":0},{"pick":244,"sum":500},{"pick":245,"sum":0},{"pick":245,"sum":140},{"pick":246,"sum":0},{"pick":246,"sum":380},{"pick":247,"sum":0},{"pick":247,"sum":300},{"pick":248,"sum":0},{"pick":248,"sum":460},{"pick":249,"sum":0},{"pick":249,"sum":220},
{"pick":250,"sum":0},{"pick":250,"sum":350},{"pick":251,"sum":0},{"pick":251,"sum":180},{"pick":252,"sum":0},{"pick":252,"sum":420},{"pick":253,"sum":0},{"pick":253,"sum":260},{"pick":254,"sum":0},{"pick":254,"sum":500},{"pick":255,"sum":0},{"pick":255,"sum":140},{"pick":256,"sum":0},{"pick":256,"sum":380},{"pick":257,"sum":0},{"pick":257,"sum":300},{"pick":258,"sum":0},{"pick":258,"sum":460},{"pick":259,"sum":0},{"pick":259,"sum":220},
{"pick":260,"sum":0},{"pick":260,"sum":350},{"pick":261,"sum":0},{"pick":261,"sum":180},{"pick":262,"sum":0},{"pick":262,"sum":420},{"pick":263,"sum":0},{"pick":263,"sum":260},{"pick":264,"sum":0},{"pick":264,"sum":500},{"pick":265,"sum":0},{"pick":265,"sum":140},{"pick":266,"sum":0},{"pick":266,"sum":380},{"pick":267,"sum":0},{"pick":267,"sum":300},{"pick":268,"sum":0},{"pick":268,"sum":460},{"pick":269,"sum":0},{"pick":269,"sum":220},
{"pick":270,"sum":0},{"pick":270,"sum":350},{"pick":271,"sum":0},{"pick":271,"sum":180},{"pick":272,"sum":0},{"pick":272,"sum":420},{"pick":273,"sum":0},{"pick":273,"sum":260},{"pick":274,"sum":0},{"pick":274,"sum":500},{"pick":275,"sum":0},{"pick":275,"sum":140},{"pick":276,"sum":0},{"pick":276,"sum":380},{"pick":277,"sum":0},{"pick":277,"sum":300},{"pick":278,"sum":0},{"pick":278,"sum":460},{"pick":279,"sum":0},{"pick":279,"sum":220},
{"pick":280,"sum":0},{"pick":280,"sum":350},{"pick":281,"sum":0},{"pick":281,"sum":180},{"pick":282,"sum":0},{"pick":282,"sum":420},{"pick":283,"sum":0},{"pick":283,"sum":260},{"pick":284,"sum":0},{"pick":284,"sum":500},{"pick":285,"sum":0},{"pick":285,"sum":140},{"pick":286,"sum":0},{"pick":286,"sum":380},{"pick":287,"sum":0},{"pick":287,"sum":300},{"pick":288,"sum":0},{"pick":288,"sum":460},{"pick":289,"sum":0},{"pick":289,"sum":220},
{"pick":290,"sum":0},{"pick":290,"sum":350},{"pick":291,"sum":0},{"pick":291,"sum":180},{"pick":292,"sum":0},{"pick":292,"sum":420},{"pick":293,"sum":0},{"pick":293,"sum":260},
{"pick":60,"sum":700},{"pick":61,"sum":1100},{"pick":62,"sum":900},{"pick":63,"sum":1300},{"pick":64,"sum":800},{"pick":65,"sum":1200},{"pick":66,"sum":1000},{"pick":67,"sum":1400},{"pick":68,"sum":650},{"pick":69,"sum":1050},
{"pick":70,"sum":700},{"pick":71,"sum":1100},{"pick":72,"sum":900},{"pick":73,"sum":1300},{"pick":74,"sum":800},{"pick":75,"sum":1200},{"pick":76,"sum":1000},{"pick":77,"sum":1400},{"pick":78,"sum":650},{"pick":79,"sum":1050},
{"pick":80,"sum":700},{"pick":81,"sum":1100},{"pick":82,"sum":900},{"pick":83,"sum":1300},{"pick":84,"sum":800},{"pick":85,"sum":1200},{"pick":86,"sum":1000},{"pick":87,"sum":1400},{"pick":88,"sum":650},{"pick":89,"sum":1050},
{"pick":90,"sum":700},{"pick":91,"sum":1100},{"pick":92,"sum":900},{"pick":93,"sum":1300},{"pick":94,"sum":800},{"pick":95,"sum":1200},{"pick":96,"sum":1000},{"pick":97,"sum":1400},{"pick":98,"sum":650},{"pick":99,"sum":1050},
{"pick":100,"sum":700},{"pick":101,"sum":1100},{"pick":102,"sum":900},{"pick":103,"sum":1300},{"pick":104,"sum":800},{"pick":105,"sum":1200},{"pick":106,"sum":1000},{"pick":107,"sum":1400},{"pick":108,"sum":650},{"pick":109,"sum":1050},
{"pick":110,"sum":700},{"pick":111,"sum":1100},{"pick":112,"sum":900},{"pick":113,"sum":1300},{"pick":114,"sum":800},{"pick":115,"sum":1200},{"pick":116,"sum":1000},{"pick":117,"sum":1400},{"pick":118,"sum":650},{"pick":119,"sum":1050},
{"pick":120,"sum":700},{"pick":121,"sum":1100},{"pick":122,"sum":900},{"pick":123,"sum":1300},{"pick":124,"sum":800},{"pick":125,"sum":1200},{"pick":126,"sum":1000},{"pick":127,"sum":1400},{"pick":128,"sum":650},{"pick":129,"sum":1050},
{"pick":130,"sum":700},{"pick":131,"sum":1100},{"pick":132,"sum":900},{"pick":133,"sum":1300},{"pick":134,"sum":800},{"pick":135,"sum":1200},{"pick":136,"sum":1000},{"pick":137,"sum":1400},{"pick":138,"sum":650},{"pick":139,"sum":1050},
{"pick":140,"sum":700},{"pick":141,"sum":1100},{"pick":142,"sum":900},{"pick":143,"sum":1300},{"pick":144,"sum":800},{"pick":145,"sum":1200},{"pick":146,"sum":1000},{"pick":147,"sum":1400},{"pick":148,"sum":650},{"pick":149,"sum":1050},
{"pick":150,"sum":700},{"pick":151,"sum":1100},{"pick":152,"sum":900},{"pick":153,"sum":1300},{"pick":154,"sum":800},{"pick":155,"sum":1200},{"pick":156,"sum":1000},{"pick":157,"sum":1400},{"pick":158,"sum":650},{"pick":159,"sum":1050},
{"pick":160,"sum":700},{"pick":161,"sum":1100},{"pick":162,"sum":900},{"pick":163,"sum":1300},{"pick":164,"sum":800},{"pick":165,"sum":1200},{"pick":166,"sum":1000},{"pick":167,"sum":1400},{"pick":168,"sum":650},{"pick":169,"sum":1050},
{"pick":170,"sum":700},{"pick":171,"sum":1100},{"pick":172,"sum":900},{"pick":173,"sum":1300},{"pick":174,"sum":800},{"pick":175,"sum":1200},{"pick":176,"sum":1000},{"pick":177,"sum":1400},{"pick":178,"sum":650},{"pick":179,"sum":1050},
{"pick":180,"sum":700},{"pick":181,"sum":1100},{"pick":182,"sum":900},{"pick":183,"sum":1300},{"pick":184,"sum":800},{"pick":185,"sum":1200},{"pick":186,"sum":1000},{"pick":187,"sum":1400},{"pick":188,"sum":650},{"pick":189,"sum":1050},
{"pick":190,"sum":700},{"pick":191,"sum":1100},{"pick":192,"sum":900},{"pick":193,"sum":1300},{"pick":194,"sum":800},{"pick":195,"sum":1200},{"pick":196,"sum":1000},{"pick":197,"sum":1400},{"pick":198,"sum":650},{"pick":199,"sum":1050},
{"pick":200,"sum":700},{"pick":201,"sum":1100},{"pick":202,"sum":900},{"pick":203,"sum":1300},{"pick":204,"sum":800},{"pick":205,"sum":1200},{"pick":206,"sum":1000},{"pick":207,"sum":1400},{"pick":208,"sum":650},{"pick":209,"sum":1050},
{"pick":210,"sum":700},{"pick":211,"sum":1100},{"pick":212,"sum":900},{"pick":213,"sum":1300},{"pick":214,"sum":800},{"pick":215,"sum":1200},{"pick":216,"sum":1000},{"pick":217,"sum":1400},{"pick":218,"sum":650},{"pick":219,"sum":1050},
{"pick":220,"sum":700},{"pick":221,"sum":1100},{"pick":222,"sum":900},{"pick":223,"sum":1300},{"pick":224,"sum":800},{"pick":225,"sum":1200},{"pick":226,"sum":1000},{"pick":227,"sum":1400},{"pick":228,"sum":650},{"pick":229,"sum":1050},
{"pick":230,"sum":700},{"pick":231,"sum":1100},{"pick":232,"sum":900},{"pick":233,"sum":1300},{"pick":234,"sum":800},{"pick":235,"sum":1200},{"pick":236,"sum":1000},{"pick":237,"sum":1400},{"pick":238,"sum":650},{"pick":239,"sum":1050},{"pick":240,"sum":700},
{"pick":241,"sum":950},{"pick":243,"sum":700},{"pick":244,"sum":1150},{"pick":246,"sum":800},{"pick":247,"sum":1000},{"pick":249,"sum":650},{"pick":250,"sum":1250},{"pick":252,"sum":850},{"pick":254,"sum":700},{"pick":257,"sum":950},{"pick":259,"sum":700},{"pick":261,"sum":1050},{"pick":263,"sum":650},{"pick":266,"sum":800},{"pick":269,"sum":1100},{"pick":272,"sum":700},{"pick":275,"sum":900},{"pick":278,"sum":650},{"pick":281,"sum":850},{"pick":283,"sum":1150},{"pick":285,"sum":700},{"pick":288,"sum":950},{"pick":290,"sum":650},{"pick":293,"sum":750}
]},
"mark":{"type":"point","shape":"circle","filled":false,"stroke":"black","strokeWidth":1,"size":36,"opacity":1},
"encoding":{
"x":{"field":"pick","type":"quantitative","scale":{"domain":[-10.7,304.7],"nice":false,"zero":false},"axis":{"values":[0,50,100,150,200,250,300],"format":"d","title":"Overall Draft Pick","domain":false,"grid":false,"ticks":true,"tickSize":7,"tickWidth":1,"tickColor":"black","labelColor":"black","labelFont":"Liberation Sans","labelFontSize":15,"labelPadding":7,"labelBaseline":"top","labelAlign":"center","labelFlush":false,"labelOverlap":false,"titleFont":"Liberation Sans","titleFontSize":15,"titleFontWeight":"bold","titleColor":"black","titleX":184,"titleY":61,"titleBaseline":"alphabetic","titleAlign":"center"}},
"y":{"field":"sum","type":"quantitative","scale":{"domain":[-885,21660],"nice":false,"zero":false},"axis":{"values":[0,5000,10000,15000,20000],"format":"d","title":"Sum of all seven seasons","domain":false,"grid":false,"ticks":true,"tickSize":7,"tickWidth":1,"tickColor":"black","labelColor":"black","labelFont":"Liberation Sans","labelFontSize":15,"labelAngle":-90,"labelAlign":"center","labelBaseline":"bottom","labelPadding":11,"labelFlush":false,"labelOverlap":false,"titleFont":"Liberation Sans","titleFontSize":15,"titleFontWeight":"bold","titleColor":"black","titleX":-57.7,"titleY":116,"titleAngle":-90,"titleAlign":"center","titleBaseline":"alphabetic"}}
}
}
